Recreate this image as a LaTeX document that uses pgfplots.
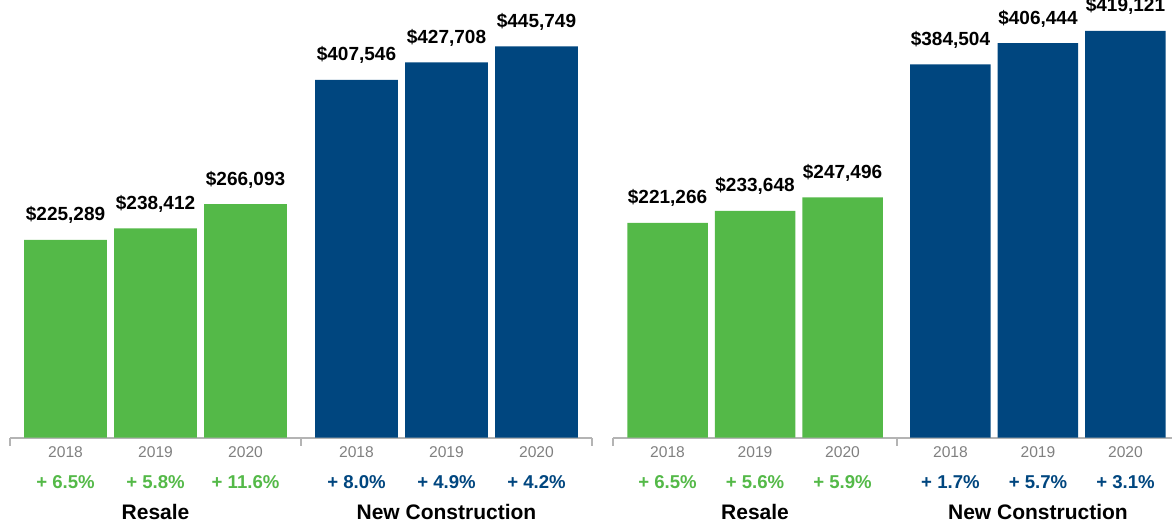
\documentclass[border=0pt]{standalone}
\usepackage{fontspec}
\setmainfont{Liberation Sans}
\usepackage{pgfplots}
\pgfplotsset{compat=1.18}
\definecolor{grn}{HTML}{54B948}
\definecolor{blu}{HTML}{00467F}
\definecolor{yr}{HTML}{808080}
\definecolor{ax}{HTML}{B4B4B4}

\pgfplotsset{panel/.style={
  scale only axis, clip=false,
  ymin=0, ymax=450000,
  xmin=-0.617, xmax=5.85,
  axis x line*=bottom, axis y line=none,
  x axis line style={ax, line width=1pt},
  xtick={-0.617,2.617,5.85}, xticklabels={},
  tick align=outside, major tick length=4pt,
  tick style={ax, line width=1pt},
  ytick=\empty,
  nodes near coords={\$\pgfmathprintnumber{\pgfplotspointmeta}},
  every node near coord/.append style={font=\fontsize{9.5}{11}\selectfont\bfseries, text=black, anchor=base, yshift=9.5pt},
  /pgf/number format/fixed, /pgf/number format/precision=0,
  /pgf/number format/1000 sep={,}, /pgf/number format/assume math mode=true,
}}
\tikzset{
yrlab/.style={font=\fontsize{7.8}{9}\selectfont, text=yr, anchor=base, yshift=-10pt},
pclab/.style={font=\fontsize{9.3}{11}\selectfont\bfseries, anchor=base, yshift=-25.5pt},
grlab/.style={font=\fontsize{10.5}{12}\selectfont\bfseries, text=black, anchor=base, yshift=-41pt},
}

\begin{document}
\begin{tikzpicture}
% left panel
\begin{axis}[panel, at={(5pt,44.25pt)}, anchor=south west, width=291pt, height=197.4pt]
\addplot[ybar, bar width=0.92, bar shift=0pt, fill=grn, draw=none] coordinates {(0,225289)(1,238412)(2,266093)};
\addplot[ybar, bar width=0.92, bar shift=0pt, fill=blu, draw=none] coordinates {(3.233,407546)(4.233,427708)(5.233,445749)};
\node[yrlab] at (axis cs:0,0) {2018};
\node[yrlab] at (axis cs:1,0) {2019};
\node[yrlab] at (axis cs:2,0) {2020};
\node[yrlab] at (axis cs:3.233,0) {2018};
\node[yrlab] at (axis cs:4.233,0) {2019};
\node[yrlab] at (axis cs:5.233,0) {2020};
\node[pclab, text=grn] at (axis cs:0,0) {+ 6.5\%};
\node[pclab, text=grn] at (axis cs:1,0) {+ 5.8\%};
\node[pclab, text=grn] at (axis cs:2,0) {+ 11.6\%};
\node[pclab, text=blu] at (axis cs:3.233,0) {+ 8.0\%};
\node[pclab, text=blu] at (axis cs:4.233,0) {+ 4.9\%};
\node[pclab, text=blu] at (axis cs:5.233,0) {+ 4.2\%};
\node[grlab] at (axis cs:1,0) {Resale};
\node[grlab] at (axis cs:4.233,0) {New Construction};
\end{axis}
% right panel
\begin{axis}[panel, at={(306.5pt,44.25pt)}, anchor=south west, width=283.5pt, height=218.3pt,
  xmin=-0.623, xmax=5.856, xtick={-0.623,2.617,5.856}]
\addplot[ybar, bar width=0.92, bar shift=0pt, fill=grn, draw=none] coordinates {(0,221266)(1,233648)(2,247496)};
\addplot[ybar, bar width=0.92, bar shift=0pt, fill=blu, draw=none] coordinates {(3.233,384504)(4.233,406444)(5.233,419121)};
\node[yrlab] at (axis cs:0,0) {2018};
\node[yrlab] at (axis cs:1,0) {2019};
\node[yrlab] at (axis cs:2,0) {2020};
\node[yrlab] at (axis cs:3.233,0) {2018};
\node[yrlab] at (axis cs:4.233,0) {2019};
\node[yrlab] at (axis cs:5.233,0) {2020};
\node[pclab, text=grn] at (axis cs:0,0) {+ 6.5\%};
\node[pclab, text=grn] at (axis cs:1,0) {+ 5.6\%};
\node[pclab, text=grn] at (axis cs:2,0) {+ 5.9\%};
\node[pclab, text=blu] at (axis cs:3.233,0) {+ 1.7\%};
\node[pclab, text=blu] at (axis cs:4.233,0) {+ 5.7\%};
\node[pclab, text=blu] at (axis cs:5.233,0) {+ 3.1\%};
\node[grlab] at (axis cs:1,0) {Resale};
\node[grlab] at (axis cs:4.233,0) {New Construction};
\end{axis}
\pgfresetboundingbox
\useasboundingbox (0,0) rectangle (586pt,263pt);
\end{tikzpicture}
\end{document}
